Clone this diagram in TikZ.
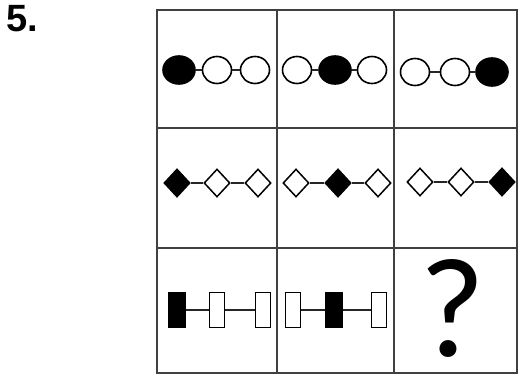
\documentclass[tikz,border=0pt]{standalone}
\usepackage{fontspec}
\setmainfont{Liberation Sans}
\newfontfamily\qfont{Carlito}
\usetikzlibrary{shapes.geometric}
\begin{document}
\begin{tikzpicture}[x=1pt,y=-1pt,
  gridline/.style={line width=2.4pt,draw=black!75},
  ov/.style={ellipse,draw,line width=1.6pt,inner sep=0pt,minimum width=29pt,minimum height=27pt,fill=white},
  ovf/.style={ov,fill=black,minimum width=32pt,minimum height=28pt},
  dm/.style={diamond,draw,line width=1.5pt,inner sep=0pt,minimum width=26pt,minimum height=28pt,fill=white},
  dmf/.style={dm,fill=black},
  rb/.style={rectangle,draw,line width=1.5pt,inner sep=0pt,minimum width=15pt,minimum height=35pt,fill=white},
  rbf/.style={rb,fill=black,minimum width=17pt},
  link/.style={line width=1.6pt,draw=black!85}]
\useasboundingbox (0,0) rectangle (519,376);
% title
\node[font=\bfseries\fontsize{38}{38}\selectfont,anchor=north west,inner sep=0pt] (title) at (6,5) {5.};
% grid
\draw[gridline] (157,10) rectangle (517,373);
\draw[gridline] (277,10) -- (277,373);
\draw[gridline] (394,10) -- (394,373);
\draw[gridline] (157,128) -- (517,128);
\draw[gridline] (157,248) -- (517,248);
% row 1: circles
\node[ovf] (a1) at (179,70) {};
\node[ov] (a2) at (217,70) {};
\node[ov] (a3) at (255,70) {};
\node[ov] (b1) at (297,70) {};
\node[ovf] (b2) at (335,70) {};
\node[ov] (b3) at (372,70) {};
\node[ov] (c1) at (415,72) {};
\node[ov] (c2) at (455,72) {};
\node[ovf] (c3) at (492,72) {};
\draw[link] (a1) -- (a2); \draw[link] (a2) -- (a3);
\draw[link] (b1) -- (b2); \draw[link] (b2) -- (b3);
\draw[link] (c1) -- (c2); \draw[link] (c2) -- (c3);
% row 2: diamonds
\node[dmf] (d1) at (177,183) {};
\node[dm] (d2) at (217,183) {};
\node[dm] (d3) at (258,183) {};
\node[dm] (e1) at (296,183) {};
\node[dmf] (e2) at (338,183) {};
\node[dm] (e3) at (378,183) {};
\node[dm] (f1) at (420,182) {};
\node[dm] (f2) at (461,182) {};
\node[dmf] (f3) at (502,182) {};
\draw[link] (d1) -- (d2); \draw[link] (d2) -- (d3);
\draw[link] (e1) -- (e2); \draw[link] (e2) -- (e3);
\draw[link] (f1) -- (f2); \draw[link] (f2) -- (f3);
% row 3: bars
\node[rbf] (g1) at (177,310) {};
\node[rb] (g2) at (217,310) {};
\node[rb] (g3) at (263,310) {};
\node[rb] (h1) at (293,310) {};
\node[rbf] (h2) at (334,310) {};
\node[rb] (h3) at (379,310) {};
\draw[link] (g1) -- (g2); \draw[link] (g2) -- (g3);
\draw[link] (h1) -- (h2); \draw[link] (h2) -- (h3);
% question mark
\node[font=\qfont\fontsize{142}{142}\selectfont,inner sep=0pt,anchor=base] (q) at (452,356) {?};
\end{tikzpicture}
\end{document}
